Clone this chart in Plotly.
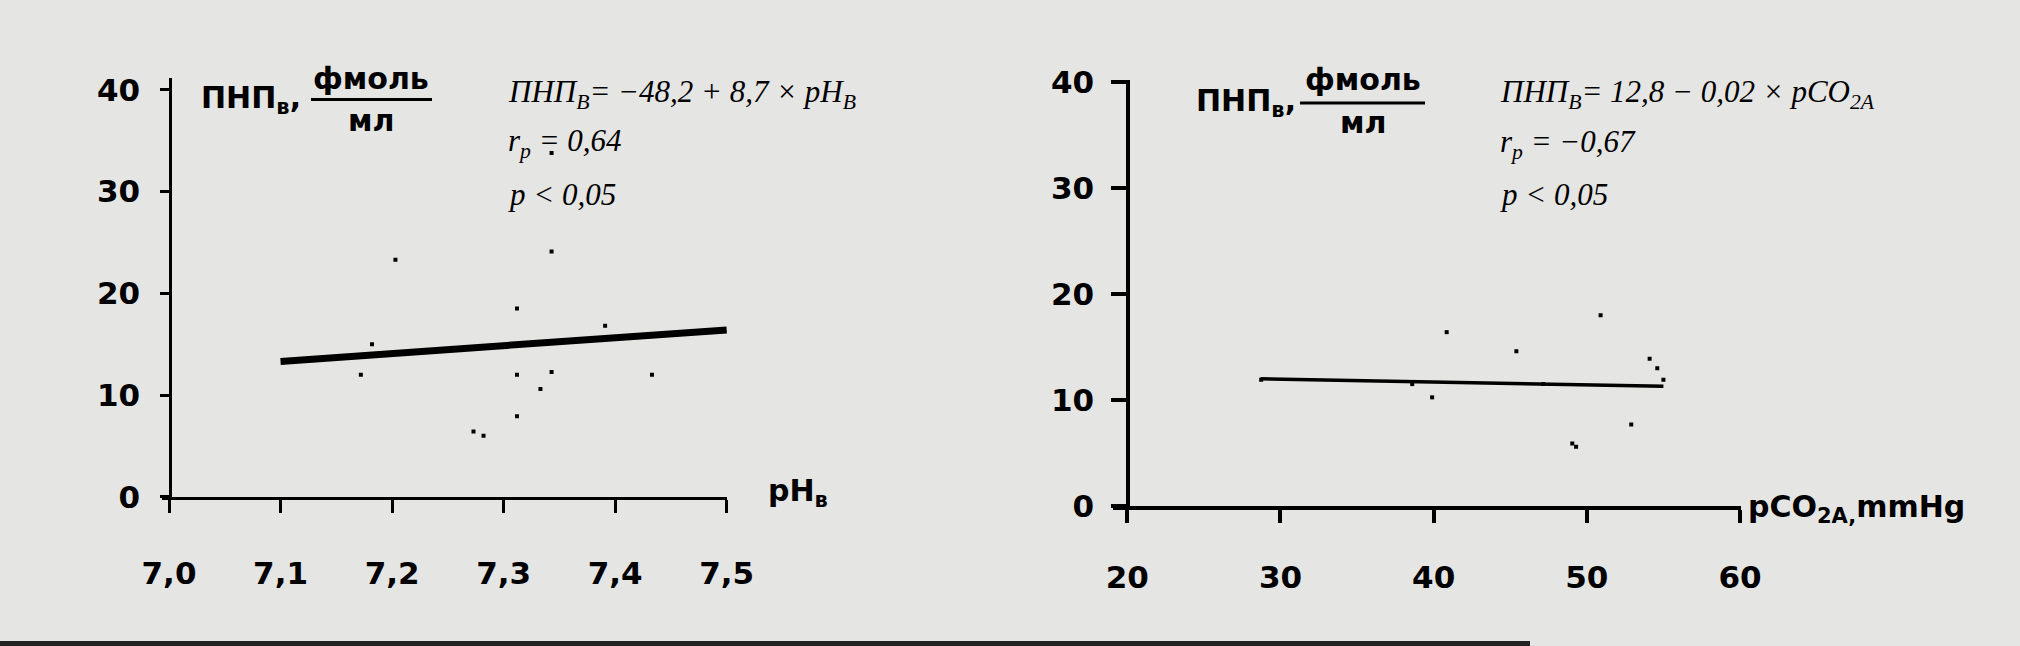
import plotly.graph_objects as go

W, H = 2020, 646
BG = "#e5e5e4"

# ---- data ----
ph_x = [7.203, 7.182, 7.172, 7.312, 7.343, 7.343, 7.312, 7.343, 7.333, 7.312, 7.273, 7.282, 7.391, 7.433]
ph_y = [23.3, 15.0, 12.0, 18.5, 24.1, 33.8, 12.0, 12.25, 10.6, 7.9, 6.4, 6.0, 16.8, 12.0]
ph_fit_x = [7.1, 7.5]
ph_fit_y = [13.3, 16.4]

co2_x = [40.85, 45.4, 50.9, 54.1, 54.6, 55.0, 39.9, 49.05, 49.3, 52.9, 38.6, 47.15, 28.74]
co2_y = [16.4, 14.6, 18.0, 13.9, 13.0, 11.9, 10.25, 5.9, 5.6, 7.7, 11.5, 11.5, 11.9]
co2_fit_x = [28.7, 55.0]
co2_fit_y = [12.0, 11.3]

ph_ticks = [7.0, 7.1, 7.2, 7.3, 7.4, 7.5]
ph_ticktext = ["7,0", "7,1", "7,2", "7,3", "7,4", "7,5"]
co2_ticks = [20, 30, 40, 50, 60]
co2_ticktext = ["20", "30", "40", "50", "60"]
y_ticks = [0, 10, 20, 30, 40]
y_ticktext = ["0", "10", "20", "30", "40"]


def px(x):
    return x / W


def py(y):
    return 1 - y / H


SANS = "DejaVu Sans"
SERIF = "Liberation Serif"

fig = go.Figure()

fig.add_trace(go.Scatter(x=ph_fit_x, y=ph_fit_y, mode="lines",
                         line=dict(color="black", width=7), xaxis="x", yaxis="y",
                         showlegend=False, hoverinfo="skip"))
fig.add_trace(go.Scatter(x=ph_x, y=ph_y, mode="markers",
                         marker=dict(symbol="square", size=4, color="black"),
                         xaxis="x", yaxis="y", showlegend=False))
fig.add_trace(go.Scatter(x=co2_fit_x, y=co2_fit_y, mode="lines",
                         line=dict(color="black", width=3.5), xaxis="x2", yaxis="y2",
                         showlegend=False, hoverinfo="skip"))
fig.add_trace(go.Scatter(x=co2_x, y=co2_y, mode="markers",
                         marker=dict(symbol="square", size=4, color="black"),
                         xaxis="x2", yaxis="y2", showlegend=False))

tickfont = dict(family=SANS, size=31, color="black", weight="bold")

# panel geometry (pixels)
L_x0, L_x1 = 162, 727
L_v0, L_v1 = 7.0 - 7 / 1115.4, 7.5 + 0.3 / 1115.4
L_y0, L_ytop = 496.7, 78
L_yscale = 10.17
R_x0, R_x1 = 1112.7, 1741
R_v0, R_v1 = 20 - 14.6 / 15.32, 60 + 1 / 15.32
R_y0, R_ytop = 506, 80
R_yscale = 10.6

fig.update_layout(
    width=W, height=H, margin=dict(l=0, r=0, t=0, b=0, autoexpand=False),
    paper_bgcolor=BG, plot_bgcolor="rgba(0,0,0,0)",
    xaxis=dict(domain=[px(L_x0), px(L_x1)], range=[L_v0, L_v1], anchor="y", automargin=False,
               showline=True, linecolor="black", linewidth=3, showgrid=False, zeroline=False,
               tickvals=ph_ticks, ticktext=ph_ticktext, ticks="outside", ticklen=13,
               tickwidth=2.5, tickcolor="black", tickfont=tickfont, ticklabelstandoff=34),
    yaxis=dict(domain=[py(L_y0), py(L_ytop)], range=[0, (L_y0 - L_ytop) / L_yscale],
               anchor="free", position=px(170), automargin=False,
               showline=True, linecolor="black", linewidth=2.5, showgrid=False, zeroline=False,
               tickvals=y_ticks, ticktext=y_ticktext, ticks="outside", ticklen=9,
               tickwidth=2.5, tickcolor="black", tickfont=tickfont, ticklabelstandoff=14),
    xaxis2=dict(domain=[px(R_x0), px(R_x1)], range=[R_v0, R_v1], anchor="y2", automargin=False,
                showline=True, linecolor="black", linewidth=4, showgrid=False, zeroline=False,
                tickvals=co2_ticks, ticktext=co2_ticktext, ticks="outside", ticklen=13,
                tickwidth=4, tickcolor="black", tickfont=tickfont, ticklabelstandoff=28),
    yaxis2=dict(domain=[py(R_y0), py(R_ytop)], range=[0, (R_y0 - R_ytop) / R_yscale],
                anchor="free", position=px(1128.3), automargin=False,
                showline=True, linecolor="black", linewidth=4, showgrid=False, zeroline=False,
                tickvals=y_ticks, ticktext=y_ticktext, ticks="outside", ticklen=15,
                tickwidth=4, tickcolor="black", tickfont=tickfont, ticklabelstandoff=11),
)

ann = []


def text(x, y, s, font, xanchor="left", yanchor="middle"):
    ann.append(dict(x=px(x), y=py(y), xref="paper", yref="paper", text=s, showarrow=False,
                    xanchor=xanchor, yanchor=yanchor, font=font))


bold = dict(family=SANS, size=30, color="black", weight="bold")
ital = dict(family=SERIF, size=31, color="black", style="italic")

# left y title
text(199, 99, "ПНП<sub>в</sub>,", bold)
text(371, 78, "фмоль", bold, xanchor="center")
text(371, 120, "мл", bold, xanchor="center")
# right y title
text(1194, 102, "ПНП<sub>в</sub>,", bold)
text(1363, 80, "фмоль", bold, xanchor="center")
text(1363, 123, "мл", bold, xanchor="center")
# axis titles
text(766, 492, "pH<sub>в</sub>", bold)
text(1746, 508, "pCO<sub>2A,</sub>mmHg", bold)

# equations
text(506, 94, "ПНП<sub>B</sub>= −48,2 + 8,7 × pH<sub>B</sub>", ital)
text(506, 143, "r<sub>p</sub> = 0,64", ital)
text(506, 194, "p &lt; 0,05", ital)
text(1498, 94, "ПНП<sub>B</sub>= 12,8 − 0,02 × pCO<sub>2A</sub>", ital)
text(1498, 144, "r<sub>p</sub> = −0,67", ital)
text(1498, 194, "p &lt; 0,05", ital)

fig.update_layout(annotations=ann)

shapes = [
    dict(type="line", xref="paper", yref="paper", x0=px(311), x1=px(432), y0=py(99.5), y1=py(99.5),
         line=dict(color="black", width=3)),
    dict(type="line", xref="paper", yref="paper", x0=px(1300), x1=px(1425), y0=py(103), y1=py(103),
         line=dict(color="black", width=3)),
    dict(type="rect", xref="paper", yref="paper", x0=0, x1=px(1530), y0=0, y1=py(641),
         fillcolor="#222222", line=dict(width=0), layer="below"),
]
fig.update_layout(shapes=shapes)

fig.write_html("out.html", config={"displayModeBar": False},
               post_script="document.body.style.margin='0';")
